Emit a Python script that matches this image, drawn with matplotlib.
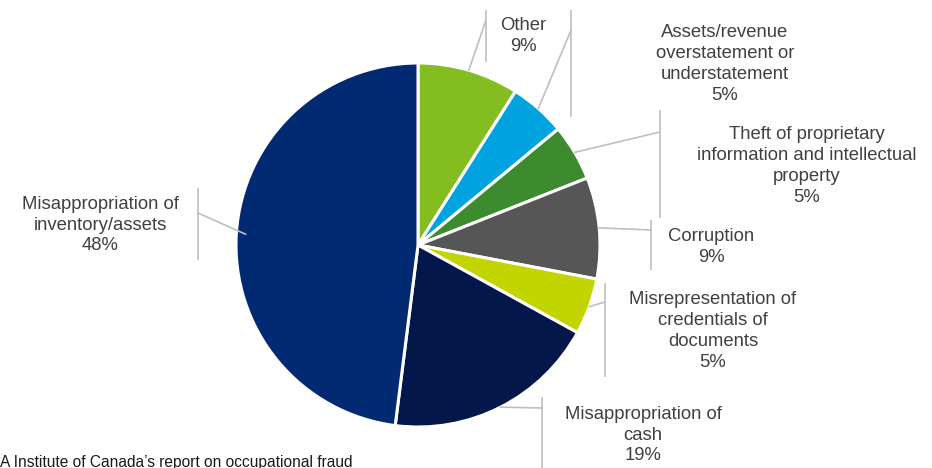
import numpy as np
import matplotlib
matplotlib.use('Agg')
import matplotlib.pyplot as plt

plt.rcParams['font.family'] = ['Liberation Sans', 'DejaVu Sans']

# fraud types, clockwise from 12 o'clock
categories = ['Other', 'Assets/revenue\noverstatement or\nunderstatement',
              'Theft of proprietary\ninformation and intellectual\nproperty',
              'Corruption', 'Misrepresentation of\ncredentials of\ndocuments',
              'Misappropriation of\ncash', 'Misappropriation of\ninventory/assets']
shares = [9, 5, 5, 9, 5, 19, 48]
colors = ['#84bd1f', '#00a3e0', '#3d8b2f', '#565656', '#c3d500', '#03174a', '#022a72']
source = 'A Institute of Canada\u2019s report on occupational fraud'

W, H = 932, 468
fig = plt.figure(figsize=(W / 100, H / 100), dpi=100)
ax = fig.add_axes([0, 0, 1, 1])
ax.set_xlim(0, W)
ax.set_ylim(0, H)
ax.set_aspect('equal')
ax.axis('off')

cx, cy, R = 418, H - 245, 182
wedges, _ = ax.pie(shares, colors=colors, startangle=90, counterclock=False,
                   center=(cx, cy), radius=R,
                   wedgeprops=dict(edgecolor='white', linewidth=2.2))
ax.set_xlim(0, W)
ax.set_ylim(0, H)

# label layout (pixel coords, y from top): text centre, bracket x, bracket y-range, leader end y
labels_pos = [
    (523, 36, 486, (10, 62), 20, 1.0),
    (725, 64, 571, (10, 117), 30, 1.0),
    (807, 166, 660, (110, 218), 132, 1.0),
    (711, 247, 651, (220, 270), 230, 1.0),
    (713, 331, 605, (283, 377), 302, 1.0),
    (643, 435, 542, (397, 470), 408, 1.0),
    (100, 225, 198, (188, 260), 213, 0.95),
]
line_col = '#bfbfbf'
cum = np.cumsum([0] + shares)
for i, (cat, val) in enumerate(zip(categories, shares)):
    tx, ty, bx, (by0, by1), ly, rf = labels_pos[i]
    mid = (cum[i] + val / 2) / 100 * 2 * np.pi
    sx = cx + rf * R * np.sin(mid)
    sy = cy + rf * R * np.cos(mid)
    ax.plot([bx, bx], [H - by0, H - by1], color=line_col, lw=1.2, solid_capstyle='butt')
    ax.plot([sx, bx], [sy, H - ly], color=line_col, lw=1.2)
    ax.text(tx, H - ty, f'{cat}\n{val}%', ha='center', va='center',
            fontsize=13.3, color='#404040', linespacing=1.3)

ax.text(0, H - 462, source, ha='left', va='center', fontsize=11.2, color='#1a1a1a')

fig.savefig('out.png', dpi=100)
